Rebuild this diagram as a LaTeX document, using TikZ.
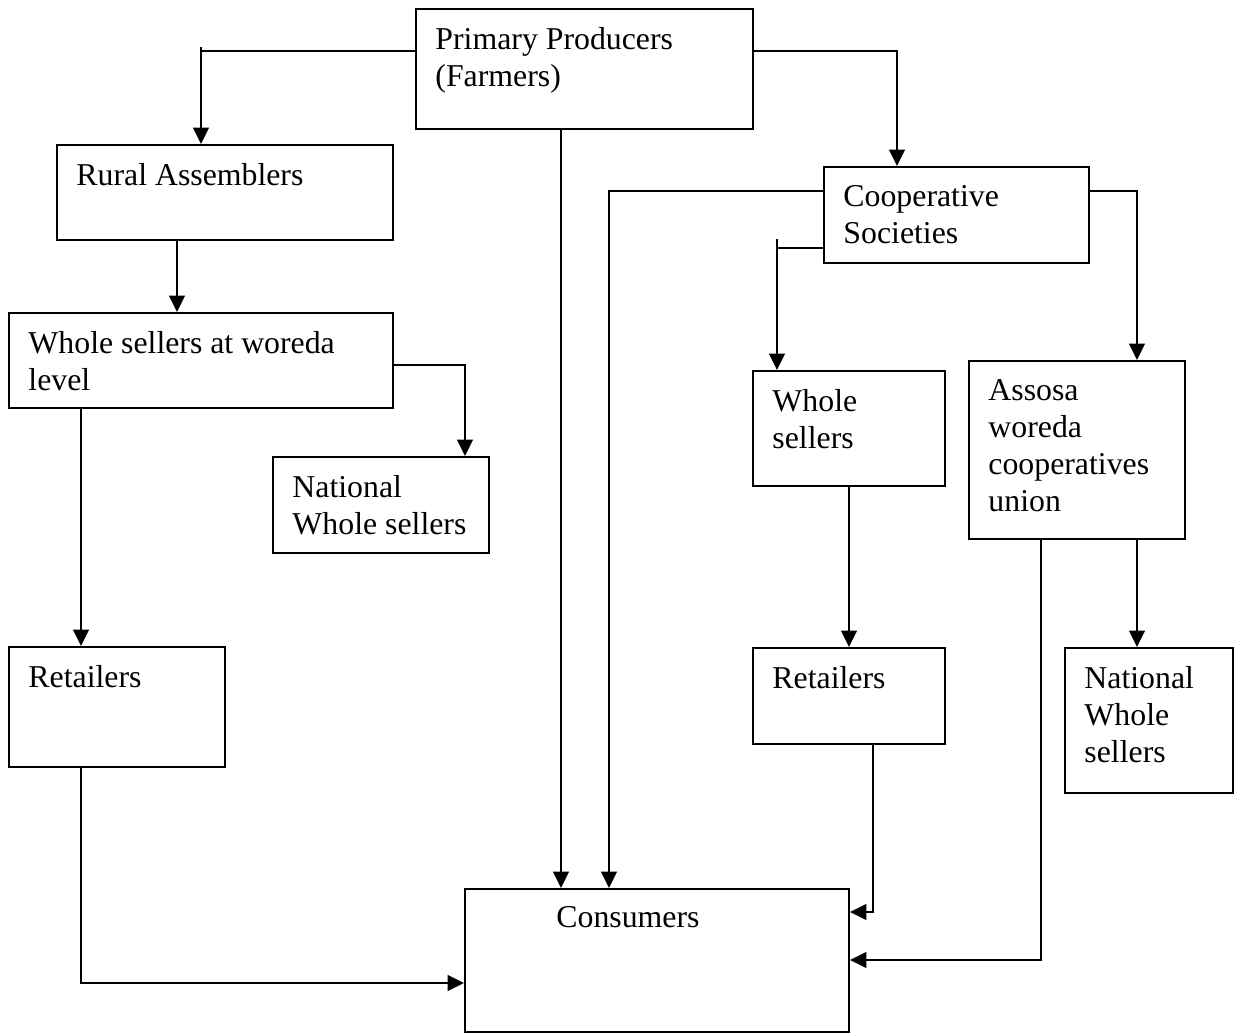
\documentclass[tikz,border=0pt]{standalone}
\usepackage{fontspec}
\setmainfont{Liberation Serif}
\usetikzlibrary{arrows.meta,positioning}
\tikzset{
  chbox/.style 2 args={
    draw, line width=0.8pt, inner sep=0pt,
    minimum width=#1*0.3774pt, minimum height=#2*0.3774pt
  },
  chtext/.style={anchor=north west, inner sep=0pt, align=left, font=\fontsize{12}{14}\selectfont},
  link/.style={line width=0.7pt},
  flow/.style={link, -{Triangle[length=6.2pt, width=6pt]}}
}
\begin{document}
\begin{tikzpicture}[x=0.3774pt, y=-0.3774pt]
  \useasboundingbox (0,0) rectangle (1236,1034);
  \node[chbox={337}{120}] (pp) at (584.5,69) {};
  \node[chbox={336}{95}] (ra) at (225,192.5) {};
  \node[chbox={265}{96}] (cs) at (956.5,215) {};
  \node[chbox={384}{95}] (wsw) at (201,360.5) {};
  \node[chbox={216}{96}] (nws1) at (381,505) {};
  \node[chbox={192}{115}] (ws) at (849,428.5) {};
  \node[chbox={216}{178}] (awcu) at (1077,450) {};
  \node[chbox={216}{120}] (ret1) at (117,707) {};
  \node[chbox={192}{96}] (ret2) at (849,696) {};
  \node[chbox={168}{145}] (nws2) at (1149,720.5) {};
  \node[chbox={384}{143}] (con) at (657,960.5) {};
  \node[chtext] (pp-t) at ([shift={(20,19)}]pp.north west) {Primary Producers\\(Farmers)};
  \node[chtext] (ra-t) at ([shift={(20,19)}]ra.north west) {Rural Assemblers};
  \node[chtext] (cs-t) at ([shift={(20,19)}]cs.north west) {Cooperative\\Societies};
  \node[chtext] (wsw-t) at ([shift={(20,19)}]wsw.north west) {Whole sellers at woreda\\level};
  \node[chtext] (nws1-t) at ([shift={(20,19)}]nws1.north west) {National\\Whole sellers};
  \node[chtext] (ws-t) at ([shift={(20,19)}]ws.north west) {Whole\\sellers};
  \node[chtext] (awcu-t) at ([shift={(20,19)}]awcu.north west) {Assosa\\woreda\\cooperatives\\union};
  \node[chtext] (ret1-t) at ([shift={(20,19)}]ret1.north west) {Retailers};
  \node[chtext] (ret2-t) at ([shift={(20,19)}]ret2.north west) {Retailers};
  \node[chtext] (nws2-t) at ([shift={(20,19)}]nws2.north west) {National\\Whole\\sellers};
  \node[chtext] (con-t) at ([shift={(92,18)}]con.north west) {Consumers};
  \coordinate (kRA) at (201,51);
  \coordinate (kCS) at (897,51);
  \coordinate (kPC) at (561,0);
  \coordinate (kCC) at (609,191);
  \coordinate (kWS) at (777,248);
  \coordinate (kAU) at (1137,191);
  \coordinate (kRW) at (177,0);
  \coordinate (kNW) at (465,365);
  \coordinate (kRC) at (81,983);
  \coordinate (kRR) at (873,912);
  \coordinate (kAC) at (1041,960);
  \draw[link] (pp.west |- kRA) -- (kRA);
  \draw[flow] (kRA) ++(0,-4) -- (ra.north -| kRA);
  \draw[flow] (pp.east |- kCS) -| (cs.north -| kCS);
  \draw[flow] (pp.south -| kPC) -- (con.north -| kPC);
  \draw[flow] (cs.west |- kCC) -| (con.north -| kCC);
  \draw[link] (cs.west |- kWS) -- (kWS);
  \draw[flow] (kWS) ++(0,-9) -- (ws.north -| kWS);
  \draw[flow] (cs.east |- kAU) -| (awcu.north -| kAU);
  \draw[flow] (ra.south -| kRW) -- (wsw.north -| kRW);
  \draw[flow] (wsw.east |- kNW) -| (nws1.north -| kNW);
  \draw[flow] (wsw.south -| kRC) -- (ret1.north -| kRC);
  \draw[flow] (ret1.south -| kRC) |- (con.west |- kRC);
  \draw[flow] (ws.south) -- (ret2.north);
  \draw[flow] (ret2.south -| kRR) |- (con.east |- kRR);
  \draw[flow] (awcu.south -| kAC) |- (con.east |- kAC);
  \draw[flow] (awcu.south -| kAU) -- (nws2.north -| kAU);
\end{tikzpicture}
\end{document}
